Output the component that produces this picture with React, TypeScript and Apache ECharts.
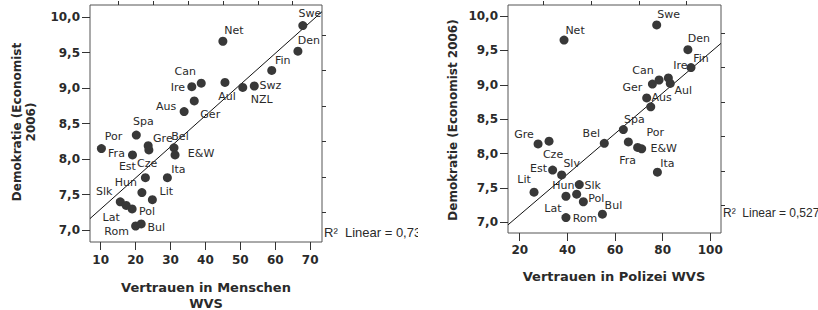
import React, { useEffect, useRef } from "react";
import * as echarts from "echarts";

// Left panel: trust in people (WVS) vs. democracy index (Economist 2006)
const LEFT_NAMES = ["Swe", "Den", "Net", "Fin", "Can", "Ire", "Aul", "Swz", "NZL", "Ger", "Aus", "Spa", "Por", "Gre", "Cze", "Bel", "E&W", "Fra", "Est", "Ita", "Hun", "Lit", "Slk", "Lat", "Pol", "Rom", "Bul"];
const LEFT_TRUST = [67.9, 66.5, 45.0, 59.0, 38.8, 36.1, 45.6, 54.0, 50.7, 36.8, 33.9, 20.2, 10.2, 23.8, 23.6, 31.0, 31.3, 19.1, 22.8, 29.1, 21.8, 24.8, 15.6, 17.3, 19.0, 20.0, 21.6];
const LEFT_DEMO = [9.88, 9.52, 9.66, 9.25, 9.07, 9.02, 9.08, 9.03, 9.01, 8.82, 8.67, 8.34, 8.15, 8.13, 8.19, 8.16, 8.06, 8.06, 7.74, 7.74, 7.53, 7.43, 7.40, 7.35, 7.30, 7.06, 7.09];
const LEFT_FIT = { intercept: 6.861, slope: 0.0438 };
const LEFT_R2 = "R²  Linear = 0,73";

// Right panel: trust in police (WVS) vs. democracy index (Economist 2006)
const RIGHT_NAMES = ["Swe", "Net", "Den", "Fin", "Can", "Ire", "Aul", "Ger", "Aus", "Swz", "Spa", "Bel", "Por", "E&W", "Fra", "Ita", "Gre", "Cze", "Est", "Slv", "Lit", "Hun", "Slk", "Lat", "Pol", "Rom", "Bul"];
const RIGHT_POLICE = [77.5, 38.6, 90.6, 91.9, 78.5, 82.4, 83.2, 75.7, 73.3, 75.0, 63.5, 55.5, 65.6, 71.2, 69.5, 77.8, 27.7, 32.3, 33.8, 37.6, 26.0, 45.0, 43.9, 39.4, 46.7, 39.4, 54.7];
const RIGHT_DEMO = [9.87, 9.65, 9.51, 9.25, 9.07, 9.10, 9.02, 9.01, 8.81, 8.68, 8.35, 8.15, 8.17, 8.07, 8.09, 7.73, 8.14, 8.18, 7.76, 7.69, 7.44, 7.55, 7.41, 7.38, 7.30, 7.07, 7.12];
const RIGHT_FIT = { intercept: 6.52, slope: 0.0295 };
const RIGHT_R2 = "R²  Linear = 0,527";

// Tick values
const LEFT_X_TICKS = [10, 20, 30, 40, 50, 60, 70];
const LEFT_X_MINOR = [15, 25, 35, 45, 55, 65];
const RIGHT_X_TICKS = [20, 40, 60, 80, 100];
const RIGHT_X_MINOR = [30, 50, 70, 90];
const Y_TICKS = [7.0, 7.5, 8.0, 8.5, 9.0, 9.5, 10.0];
const Y_MINOR = [7.25, 7.75, 8.25, 8.75, 9.25, 9.75];

// Label placement (pixel offsets of label centre from the point), style only
const LEFT_LABEL_OFFSETS: Record<string, [number, number]> = {
  Swe: [7, -12], Den: [11, -11], Net: [11, -11], Fin: [11, -10], Can: [-16, -12], Ire: [-14, 1],
  Aul: [2, 14], Swz: [16, -1], NZL: [19, 12], Ger: [16, 14], Aus: [-18, -5], Spa: [7, -14],
  Por: [12, -12], Gre: [14, -11], Cze: [-1, 18], Bel: [6, -11], "E&W": [26, -1], Fra: [-16, -1],
  Est: [-18, -11], Ita: [11, -8], Hun: [-16, -10], Lit: [14, -8], Slk: [-16, -10], Lat: [-15, 12],
  Pol: [15, 3], Rom: [-19, 5], Bul: [15, 4],
};
const RIGHT_LABEL_OFFSETS: Record<string, [number, number]> = {
  Swe: [12, -10], Net: [11, -10], Den: [11, -11], Fin: [10, -9], Can: [-16, -9], Ire: [12, -12],
  Aul: [13, 7], Ger: [-20, 3], Aus: [15, 0], Spa: [11, -10], Bel: [-13, -10], Por: [27, -9],
  "E&W": [22, 0], Fra: [-10, 13], Ita: [10, -9], Gre: [-14, -9], Cze: [4, 13], Est: [-14, -2],
  Slv: [10, -11], Lit: [-10, -13], Hun: [-16, 1], Slk: [16, -9], Lat: [-13, 12], Pol: [13, -3],
  Rom: [19, 1], Bul: [11, -9],
};

const TICK_FONT = "DejaVu Sans";
const DOT_COLOR = "#383838";
const TEXT_COLOR = "#2a2a2a";

const LEFT_RANGE = { xMin: 6.93, xMax: 73.4, yMin: 6.835, yMax: 10.17 };
const RIGHT_RANGE = { xMin: 15.07, xMax: 104.5, yMin: 6.846, yMax: 10.16 };

function majorAxis(gridIndex: number, min: number, max: number, ticks: number[], isY: boolean, margin: number) {
  return {
    type: "value",
    gridIndex,
    min,
    max,
    axisLine: { show: false },
    splitLine: { show: false },
    axisTick: { show: true, length: 8, customValues: ticks, lineStyle: { color: "#333", width: 1 } },
    axisLabel: {
      show: true,
      customValues: ticks,
      margin,
      color: TEXT_COLOR,
      fontFamily: TICK_FONT,
      fontWeight: "bold",
      fontSize: 12,
      formatter: (v: number) => (isY ? v.toFixed(1).replace(".", ",") : String(Math.round(v))),
    },
  };
}

function minorAxis(gridIndex: number, min: number, max: number, ticks: number[]) {
  return {
    type: "value",
    gridIndex,
    min,
    max,
    axisLine: { show: false },
    splitLine: { show: false },
    axisTick: { show: true, length: 4, customValues: ticks, lineStyle: { color: "#333", width: 1 } },
    axisLabel: { show: false },
  };
}

function scatterData(names: string[], xs: number[], ys: number[], offsets: Record<string, [number, number]>) {
  return names.map((n, i) => {
    const off = offsets[n];
    return {
      name: n,
      value: [xs[i], ys[i]],
      label: off ? { show: true, offset: off } : { show: false },
    };
  });
}

function fitLine(fit: { intercept: number; slope: number }, xMin: number, xMax: number) {
  return [
    [xMin, fit.intercept + fit.slope * xMin],
    [xMax, fit.intercept + fit.slope * xMax],
  ];
}

export default function App() {
  const ref = useRef<HTMLDivElement>(null);

  useEffect(() => {
    if (!ref.current) return;
    const chart = echarts.init(ref.current, undefined, { renderer: "svg" });

    const pointLabel = {
      show: true,
      position: "inside",
      formatter: (p: any) => p.name,
      color: TEXT_COLOR,
      fontFamily: "DejaVu Sans",
      fontSize: 11,
    };

    const option: any = {
      animation: false,
      backgroundColor: "#ffffff",
      grid: [
        { left: 90, top: 5, width: 232, height: 237, show: true, borderColor: "#555", borderWidth: 1, backgroundColor: "transparent" },
        { left: 508, top: 5, width: 213, height: 228, show: true, borderColor: "#555", borderWidth: 1, backgroundColor: "transparent" },
      ],
      xAxis: [
        majorAxis(0, LEFT_RANGE.xMin, LEFT_RANGE.xMax, LEFT_X_TICKS, false, 12),
        minorAxis(0, LEFT_RANGE.xMin, LEFT_RANGE.xMax, LEFT_X_MINOR),
        majorAxis(1, RIGHT_RANGE.xMin, RIGHT_RANGE.xMax, RIGHT_X_TICKS, false, 11),
        minorAxis(1, RIGHT_RANGE.xMin, RIGHT_RANGE.xMax, RIGHT_X_MINOR),
      ],
      yAxis: [
        majorAxis(0, LEFT_RANGE.yMin, LEFT_RANGE.yMax, Y_TICKS, true, 10),
        minorAxis(0, LEFT_RANGE.yMin, LEFT_RANGE.yMax, Y_MINOR),
        majorAxis(1, RIGHT_RANGE.yMin, RIGHT_RANGE.yMax, Y_TICKS, true, 10),
        minorAxis(1, RIGHT_RANGE.yMin, RIGHT_RANGE.yMax, Y_MINOR),
      ],
      series: [
        {
          type: "line",
          xAxisIndex: 0,
          yAxisIndex: 0,
          data: fitLine(LEFT_FIT, LEFT_RANGE.xMin, LEFT_RANGE.xMax),
          symbol: "none",
          lineStyle: { color: "#111", width: 1 },
          clip: true,
          silent: true,
          z: 1,
        },
        {
          type: "scatter",
          xAxisIndex: 0,
          yAxisIndex: 0,
          symbolSize: 9,
          itemStyle: { color: DOT_COLOR, opacity: 1 },
          label: pointLabel,
          data: scatterData(LEFT_NAMES, LEFT_TRUST, LEFT_DEMO, LEFT_LABEL_OFFSETS),
          z: 2,
        },
        {
          type: "line",
          xAxisIndex: 2,
          yAxisIndex: 2,
          data: fitLine(RIGHT_FIT, RIGHT_RANGE.xMin, RIGHT_RANGE.xMax),
          symbol: "none",
          lineStyle: { color: "#111", width: 1 },
          clip: true,
          silent: true,
          z: 1,
        },
        {
          type: "scatter",
          xAxisIndex: 2,
          yAxisIndex: 2,
          symbolSize: 9,
          itemStyle: { color: DOT_COLOR, opacity: 1 },
          label: pointLabel,
          data: scatterData(RIGHT_NAMES, RIGHT_POLICE, RIGHT_DEMO, RIGHT_LABEL_OFFSETS),
          z: 2,
        },
      ],
      graphic: [
        {
          type: "text",
          x: 24,
          y: 122,
          rotation: Math.PI / 2,
          style: {
            text: "Demokratie (Economist\n2006)",
            align: "center",
            verticalAlign: "middle",
            font: "bold 12px 'DejaVu Sans'",
            fill: TEXT_COLOR,
            lineHeight: 14,
          },
        },
        {
          type: "text",
          x: 206,
          y: 295,
          style: {
            text: "Vertrauen in Menschen\nWVS",
            align: "center",
            verticalAlign: "middle",
            font: "bold 13px 'DejaVu Sans'",
            fill: TEXT_COLOR,
            lineHeight: 16,
          },
        },
        {
          type: "text",
          x: 453,
          y: 120,
          rotation: Math.PI / 2,
          style: {
            text: "Demokratie (Economist 2006)",
            align: "center",
            verticalAlign: "middle",
            font: "bold 12px 'DejaVu Sans'",
            fill: TEXT_COLOR,
          },
        },
        {
          type: "text",
          x: 614,
          y: 276,
          style: {
            text: "Vertrauen in Polizei WVS",
            align: "center",
            verticalAlign: "middle",
            font: "bold 13px 'DejaVu Sans'",
            fill: TEXT_COLOR,
          },
        },
        {
          type: "text",
          x: 324,
          y: 232,
          style: {
            text: LEFT_R2,
            align: "left",
            verticalAlign: "middle",
            font: "13px 'Liberation Sans'",
            fill: TEXT_COLOR,
          },
        },
        {
          type: "rect",
          shape: { x: 418, y: 220, width: 60, height: 26 },
          style: { fill: "#ffffff" },
          z: 100,
        },
        {
          type: "text",
          x: 723,
          y: 213,
          style: {
            text: RIGHT_R2,
            align: "left",
            verticalAlign: "middle",
            font: "12px 'Liberation Sans'",
            fill: TEXT_COLOR,
          },
        },
      ],
    };

    chart.setOption(option);
    return () => chart.dispose();
  }, []);

  return (
    <div
      ref={ref}
      style={{ position: "absolute", left: 0, top: 0, width: 818, height: 310, background: "#fff" }}
    />
  );
}
